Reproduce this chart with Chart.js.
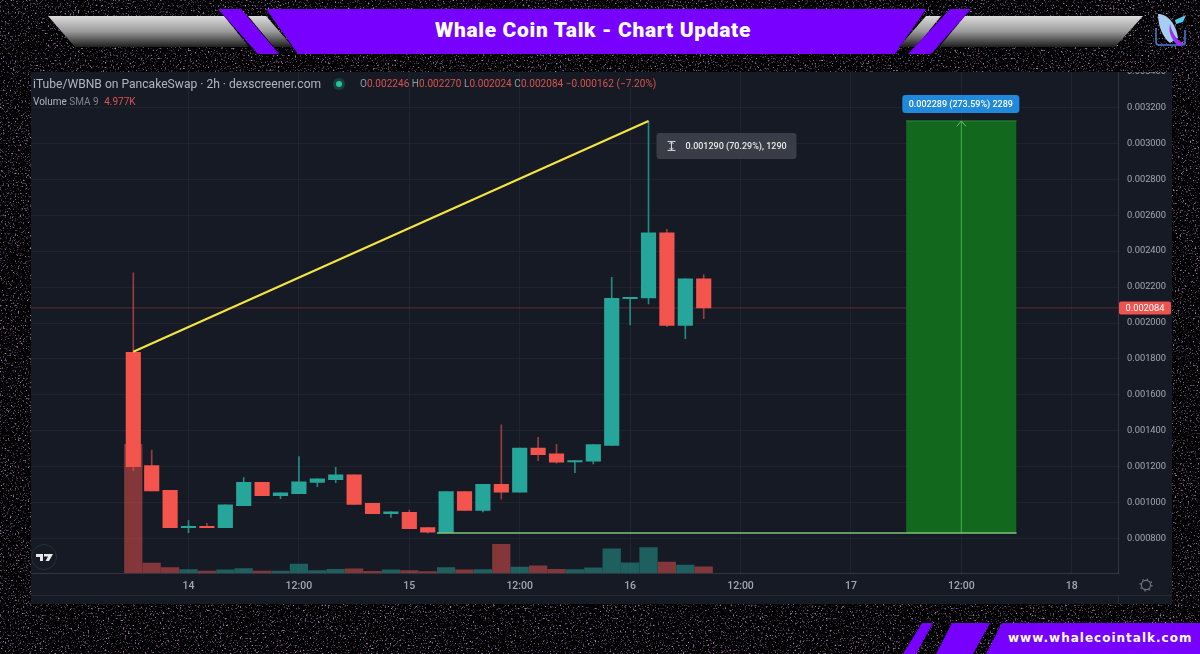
<!DOCTYPE html>
<html>
<head>
<meta charset="utf-8">
<title>Whale Coin Talk - Chart Update</title>
<script src="https://cdn.jsdelivr.net/npm/chart.js@4"></script>
<style>
html, body { margin: 0; padding: 0; background: #000; width: 1200px; height: 654px; overflow: hidden; }
.abs { position: absolute; white-space: nowrap; }
#decor { position: absolute; left: 0; top: 0; }
#panel { position: absolute; left: 31px; top: 72px; width: 1141px; height: 532px; background: #161a25; overflow: hidden; }
#chart { position: absolute; left: 0; top: -12px; }
#title { left: 263px; width: 660px; top: 18px; text-align: center; color: #fff; font: 900 21px Roboto, sans-serif; letter-spacing: .65px; }
#site { left: 1008px; top: 631px; color: #fff; font: bold 12px "DejaVu Sans", sans-serif; letter-spacing: 1px; }
#legend1 { left: 33px; top: 77px; color: #b2b5be; font: 12.1px Roboto, sans-serif; }
#legend2 { left: 360px; top: 78px; color: #9598a1; font: 10px Roboto, sans-serif; letter-spacing: .05px; }
#legend3 { left: 33px; top: 96px; color: #b2b5be; font: 10px Roboto, sans-serif; }
#legend2 b, #legend3 b { color: #d9534f; font-weight: 400; }
#legend3 b { margin-left: 3px; }
#legend3 i { color: #80838c; font-style: normal; }
</style>
</head>
<body>
<svg id="decor" width="1200" height="654">
  <defs>
    <filter id="speckle" x="0" y="0" width="100%" height="100%">
      <feTurbulence type="fractalNoise" baseFrequency="0.6" numOctaves="2" seed="7"/>
      <feColorMatrix type="matrix" values="0 0 0 0 0.42  0 0 0 0 0.22  0 0 0 0 0.52  4 0 0 0 -2.3"/>
    </filter>
    <linearGradient id="chrome" x1="0" y1="0" x2="0" y2="1">
      <stop offset="0" stop-color="#dcdcdc"/>
      <stop offset="0.5" stop-color="#9a9a9a"/>
      <stop offset="1" stop-color="#1e1e1e"/>
    </linearGradient>
  </defs>
  <rect width="1200" height="654" filter="url(#speckle)"/>
  <!-- header -->
  <polygon points="48,16 224,16 249,47 75,47" fill="url(#chrome)"/>
  <polygon points="248,16 266,16 293,47 274,47" fill="url(#chrome)"/>
  <polygon points="218,9 241,9 279,54 258,54" fill="#7700ff"/>
  <polygon points="266,9 926,9 895,54 298,54" fill="#7700ff"/>
  <polygon points="926,16 941,16 916,47 899,47" fill="url(#chrome)"/>
  <polygon points="950,9 971,9 931,54 908,54" fill="#7700ff"/>
  <polygon points="965,16 1143,16 1115,47 939,47" fill="url(#chrome)"/>
  <!-- logo -->
  <path d="M1156 28 V42 Q1156 45 1159 45 H1182 Q1185 45 1185 42 V30" fill="none" stroke="#4a7fe0" stroke-width="1.5"/>
  <path d="M1158 14 C1168 14 1176 24 1178 38 L1170 43 C1163 38 1158 26 1158 14 Z" fill="#a9cdf2"/>
  <path d="M1170 24 C1172 34 1178 42 1186 44 L1178 46 C1172 40 1168 32 1170 24 Z" fill="#9a2ff0"/>
  <path d="M1175 20 L1186 15 L1183 22 L1176 24 Z" fill="#57c8ea"/>
  <!-- footer -->
  <polygon points="922,623 933,623 916,654 903,654" fill="#7700ff"/>
  <polygon points="952,623 990,623 973,654 936,654" fill="#7700ff"/>
  <polygon points="1002,623 1200,623 1200,654 986,654" fill="#7700ff"/>
</svg>

<div id="panel"><canvas id="chart" width="1141" height="544"></canvas></div>

<div class="abs" id="title">Whale Coin Talk - Chart Update</div>
<div class="abs" id="site">www.whalecointalk.com</div>
<div class="abs" id="legend1">iTube/WBNB on PancakeSwap · 2h · dexscreener.com</div>
<div class="abs" id="legend2">O<b>0.002246</b> H<b>0.002270</b> L<b>0.002024</b> C<b>0.002084</b> <b>−0.000162 (−7.20%)</b></div>
<div class="abs" id="legend3">Volume <i>SMA 9</i> <b>4.977K</b></div>

<svg class="abs" style="left:0;top:0" width="1200" height="654">
  <!-- status dot -->
  <circle cx="339" cy="84" r="6" fill="#26c4a0" opacity=".22"/>
  <circle cx="339" cy="84" r="3" fill="#1fc79f"/>
  <!-- tradingview badge -->
  <circle cx="44" cy="557" r="12.5" fill="#161a25" stroke="#2a2e39"/>
  <path d="M36 554 H43 V561 H40 V557 H36 Z M44 554 H53 L49 561 H45.5 L48 556.5 H44 Z" fill="#e8e8e8"/>
  <!-- settings gear -->
  <circle cx="1146" cy="585" r="4.6" fill="none" stroke="#787b86" stroke-width="1.1"/>
  <circle cx="1146" cy="585" r="6" fill="none" stroke="#787b86" stroke-width="1.1" stroke-dasharray="1.6 3.1"/>
</svg>

<script>
// 2h candles, x is hours counted from the start of day 14
const candleHours = [-6,-4,-2,0,2,4,6,8,10,12,14,16,18,20,22,24,26,28,30,32,34,36,38,40,42,44,46,48,50,52,54,56];
const opens = [0.001837,0.001206,0.001068,0.000861,0.000868,0.000861,0.000983,0.001113,0.001039,0.001050,0.001113,0.001128,0.001154,0.000996,0.000939,0.000946,0.000861,0.000833,0.001061,0.000957,0.001102,0.001058,0.001303,0.001271,0.001227,0.001230,0.001319,0.002136,0.002140,0.002502,0.001987,0.002246];
const closes = [0.001200,0.001065,0.000861,0.000868,0.000861,0.000987,0.001113,0.001039,0.001054,0.001115,0.001133,0.001154,0.000990,0.000939,0.000948,0.000855,0.000835,0.001061,0.000957,0.001102,0.001058,0.001303,0.001267,0.001225,0.001234,0.001323,0.002138,0.002143,0.002502,0.001987,0.002246,0.002084];
const highs = [0.002280,0.001293,0.001068,0.000900,0.000885,0.000987,0.001140,0.001113,0.001054,0.001256,0.001133,0.001196,0.001154,0.000996,0.000948,0.000959,0.000861,0.001061,0.001061,0.001102,0.001433,0.001303,0.001364,0.001325,0.001234,0.001323,0.002255,0.002143,0.003125,0.002522,0.002246,0.002270];
const lows = [0.001178,0.001065,0.000861,0.000833,0.000861,0.000861,0.000983,0.001039,0.001022,0.001050,0.001089,0.001111,0.000990,0.000939,0.000918,0.000855,0.000830,0.000833,0.000957,0.000948,0.001019,0.001058,0.001234,0.001220,0.001167,0.001215,0.001319,0.001989,0.002106,0.001980,0.001913,0.002024];
const volumes = [59220,4560,2490,1550,940,1410,2020,940,940,4090,1080,1740,1880,800,1410,1080,610,2490,1410,1550,13160,2680,3290,1740,1550,2350,11140,4700,11750,5030,3620,2820];

const timeTicks = [0,12,24,36,48,60,72,84,96];
const timeLabels = ['14','12:00','15','12:00','16','12:00','17','12:00','18'];
const priceTicks = [0.0008,0.001,0.0012,0.0014,0.0016,0.0018,0.002,0.0022,0.0024,0.0026,0.0028,0.003,0.0032,0.0034];

const lastPrice = 0.002084;
const trendStart = [-6, 0.00184];
const trendEnd = [50, 0.003125];
const targetHours = [78, 90];
const targetMid = 84;
const targetTop = 0.003125;
const targetBottom = 0.000831;
const baseStart = 27;
const measureText = '0.001290 (70.29%), 1290';
const targetText = '0.002289 (273.59%) 2289';

const hourMin = -17.12, hourMax = 101.03;
const GREEN = '#26a69a', RED = '#f4544e';
const candleColor = (i, up, down) => closes[i] >= opens[i] ? up : down;

// 价格标签、目标标签和测量框
const tagPlugin = {
    id: 'tags',
    afterDraw(chart) {
        const ctx = chart.ctx;
        const x = chart.scales.x, y = chart.scales.y;
        const box = (l, t, w, h, r, color) => {
            ctx.fillStyle = color;
            ctx.beginPath();
            ctx.roundRect(l, t, w, h, r);
            ctx.fill();
        };
        ctx.save();
        ctx.textBaseline = 'middle';
        ctx.textAlign = 'center';

        // last price
        const py = y.getPixelForValue(lastPrice);
        box(x.right + 1, py - 6.5, 52, 13, 2, '#ef5350');
        ctx.fillStyle = '#fff';
        ctx.font = '9.3px Roboto, sans-serif';
        ctx.fillText(lastPrice.toFixed(6), x.right + 27, py + 0.5);

        // target label
        const tx = x.getPixelForValue(targetMid), ty = y.getPixelForValue(targetTop);
        box(tx - 59, ty - 26, 117, 18, 3, '#2089dc');
        ctx.fillStyle = '#fff';
        ctx.font = '500 9px Roboto, sans-serif';
        ctx.fillText(targetText, tx - 0.5, ty - 16.5);

        // measure label next to the spike
        const mx = x.getPixelForValue(trendEnd[0]) + 8, my = y.getPixelForValue(trendEnd[1]) + 12;
        box(mx, my, 140, 26, 3, '#3a3d47');
        ctx.fillStyle = '#e8e8e8';
        ctx.font = '500 9px Roboto, sans-serif';
        ctx.textAlign = 'left';
        ctx.fillText(measureText, mx + 29, my + 13.5);
        ctx.strokeStyle = '#d8d8d8';
        ctx.lineWidth = 1;
        ctx.beginPath();
        ctx.moveTo(mx + 11, my + 8.5); ctx.lineTo(mx + 19, my + 8.5);
        ctx.moveTo(mx + 11, my + 17.5); ctx.lineTo(mx + 19, my + 17.5);
        ctx.moveTo(mx + 15, my + 9); ctx.lineTo(mx + 15, my + 17);
        ctx.moveTo(mx + 13, my + 11); ctx.lineTo(mx + 15, my + 9); ctx.lineTo(mx + 17, my + 11);
        ctx.moveTo(mx + 13, my + 15); ctx.lineTo(mx + 15, my + 17); ctx.lineTo(mx + 17, my + 15);
        ctx.stroke();

        // bottom edge of the time axis strip
        ctx.strokeStyle = 'rgba(255,255,255,0.07)';
        ctx.beginPath();
        ctx.moveTo(0, 535.5); ctx.lineTo(chart.width, 535.5);
        ctx.moveTo(x.right + 0.5, x.bottom); ctx.lineTo(x.right + 0.5, 535.5);
        ctx.stroke();
        ctx.restore();
    }
};

function lineSet(points, color, width, order, extra) {
    return Object.assign({
        type: 'line',
        data: points.map(p => ({x: p[0], y: p[1]})),
        borderColor: color,
        borderWidth: width,
        pointRadius: 0,
        tension: 0,
        yAxisID: 'y',
        order: order
    }, extra || {});
}

new Chart(document.getElementById('chart').getContext('2d'), {
    type: 'bar',
    data: {
        datasets: [
            lineSet([trendStart, trendEnd], '#f5e53f', 2, 0),
            lineSet(targetHours.map(h => [h, targetTop]), '#2e8b3a', 1, 5, {
                fill: {value: targetBottom},
                backgroundColor: '#12691e'
            }),
            lineSet([[targetMid, targetBottom], [targetMid, targetTop]], '#4caf50', 1, 4),
            lineSet([[targetMid - 0.5, targetTop - 0.00003], [targetMid, targetTop], [targetMid + 0.5, targetTop - 0.00003]], '#6cbf6c', 1, 4),
            lineSet([[baseStart, targetBottom], [targetHours[1], targetBottom]], '#7cc576', 1.5, 0),
            lineSet([[hourMin, lastPrice], [hourMax, lastPrice]], 'rgba(239,83,80,0.32)', 1, 6),
            {
                label: 'body',
                data: candleHours.map((h, i) => ({x: h, y: [opens[i], closes[i]]})),
                backgroundColor: candleHours.map((h, i) => candleColor(i, GREEN, RED)),
                barThickness: 14.5,
                grouped: false,
                yAxisID: 'y',
                order: 1
            },
            {
                label: 'wick',
                data: candleHours.map((h, i) => ({x: h, y: [lows[i], highs[i]]})),
                backgroundColor: candleHours.map((h, i) => candleColor(i, 'rgba(38,166,154,0.8)', 'rgba(239,83,80,0.6)')),
                barThickness: 1,
                grouped: false,
                yAxisID: 'y',
                order: 2
            },
            {
                label: 'volume',
                data: candleHours.map((h, i) => ({x: h, y: volumes[i]})),
                backgroundColor: candleHours.map((h, i) => candleColor(i, 'rgba(38,166,154,0.5)', 'rgba(239,83,80,0.5)')),
                barThickness: 17.6,
                grouped: false,
                yAxisID: 'vol',
                order: 3
            }
        ]
    },
    options: {
        responsive: false,
        animation: false,
        events: [],
        layout: {padding: {top: 2.6, left: 0, right: 0, bottom: 0}},
        plugins: {legend: {display: false}, tooltip: {enabled: false}, title: {display: false}},
        scales: {
            x: {
                type: 'linear',
                min: hourMin,
                max: hourMax,
                offset: false,
                afterBuildTicks: s => { s.ticks = timeTicks.map(v => ({value: v})); },
                afterFit: s => { s.height = 31; },
                grid: {offset: false, color: 'rgba(255,255,255,0.045)', tickLength: 0},
                border: {color: 'rgba(255,255,255,0.12)'},
                ticks: {
                    autoSkip: false,
                    maxRotation: 0,
                    padding: 7,
                    color: '#a4a7b0',
                    font: {family: 'Roboto', size: 10.5, weight: '500'},
                    callback: v => timeLabels[timeTicks.indexOf(v)]
                }
            },
            y: {
                position: 'right',
                min: 0.000608,
                max: 0.00345,
                afterBuildTicks: s => { s.ticks = priceTicks.map(v => ({value: v})); },
                afterFit: s => { s.width = 54; s.paddingTop = 0; s.paddingBottom = 0; },
                grid: {color: 'rgba(255,255,255,0.045)', tickLength: 0},
                border: {color: 'rgba(255,255,255,0.12)'},
                ticks: {
                    padding: 9,
                    color: '#a4a7b0',
                    font: {family: 'Roboto', size: 9.3},
                    callback: v => v.toFixed(6)
                }
            },
            vol: {display: false, min: 0, max: 235000}
        }
    },
    plugins: [tagPlugin]
});
</script>
</body>
</html>
